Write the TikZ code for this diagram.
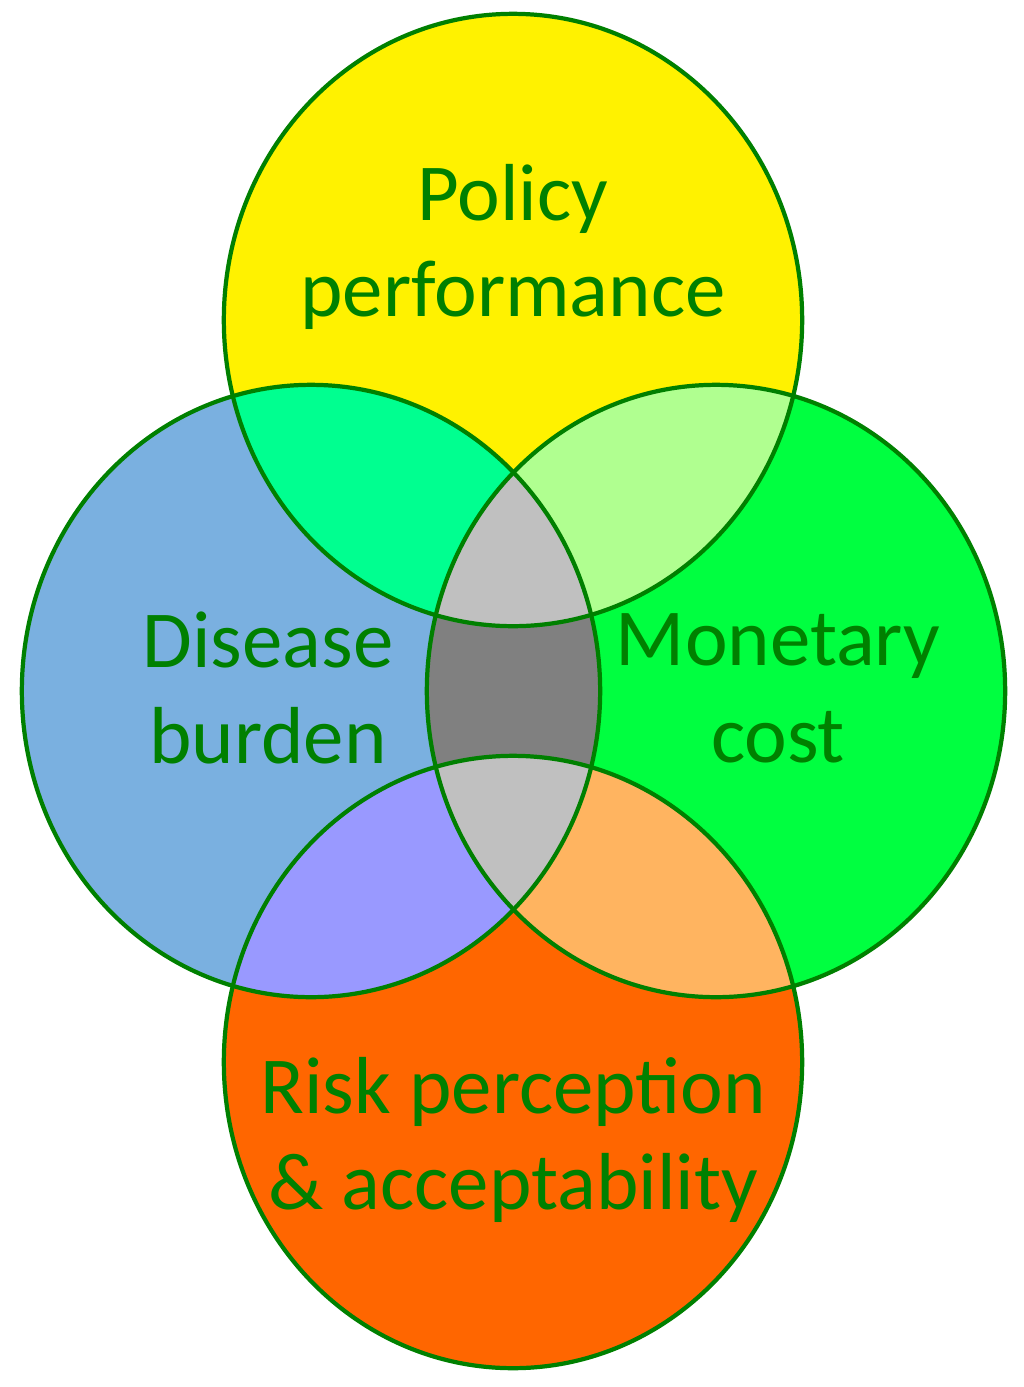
\documentclass[tikz,border=0pt]{standalone}
\usepackage{fontspec}
\setmainfont{Carlito}
\begin{document}
\begin{tikzpicture}[x=0.01cm,y=-0.01cm]
\tikzset{rr/.style={x radius=2.89cm, y radius=3.06cm},
 lbl/.style={text=green!50!black, font=\fontsize{23}{27.5}\selectfont, align=center},
 edge/.style={draw=green!50!black, line width=1.2pt}}
\def\T{(513,320) ellipse [rr]}
\def\L{(311,691) ellipse [rr]}
\def\R{(716,691) ellipse [rr]}
\def\B{(513,1062) ellipse [rr]}
\useasboundingbox (0,0) rectangle (1024,1387);
\fill[yellow] \T;
\fill[fill={rgb,255:red,122;green,176;blue,224}] \L;
\fill[fill={rgb,255:red,0;green,255;blue,64}] \R;
\fill[fill={rgb,255:red,255;green,102;blue,0}] \B;
\begin{scope}\clip \T; \fill[fill={rgb,255:red,0;green,255;blue,144}] \L; \end{scope}
\begin{scope}\clip \T; \fill[fill={rgb,255:red,176;green,255;blue,144}] \R; \end{scope}
\begin{scope}\clip \B; \fill[fill={rgb,255:red,153;green,153;blue,255}] \L; \end{scope}
\begin{scope}\clip \B; \fill[fill={rgb,255:red,255;green,180;blue,96}] \R; \end{scope}
\begin{scope}\clip \L; \fill[fill={rgb,255:red,128;green,128;blue,128}] \R; \end{scope}
\begin{scope}\clip \L; \clip \R; \fill[fill={rgb,255:red,192;green,192;blue,192}] \T; \end{scope}
\begin{scope}\clip \L; \clip \R; \fill[fill={rgb,255:red,192;green,192;blue,192}] \B; \end{scope}
\path[edge] \T; \path[edge] \L; \path[edge] \R; \path[edge] \B;
\node[lbl] (p) at (513,247) {Policy\\performance};
\node[lbl] (d) at (268,688) {Disease\\burden};
\node[lbl] (m) at (778,688) {Monetary\\cost};
\node[lbl] (r) at (513,1140) {Risk perception\\\& acceptability};
\end{tikzpicture}
\end{document}
